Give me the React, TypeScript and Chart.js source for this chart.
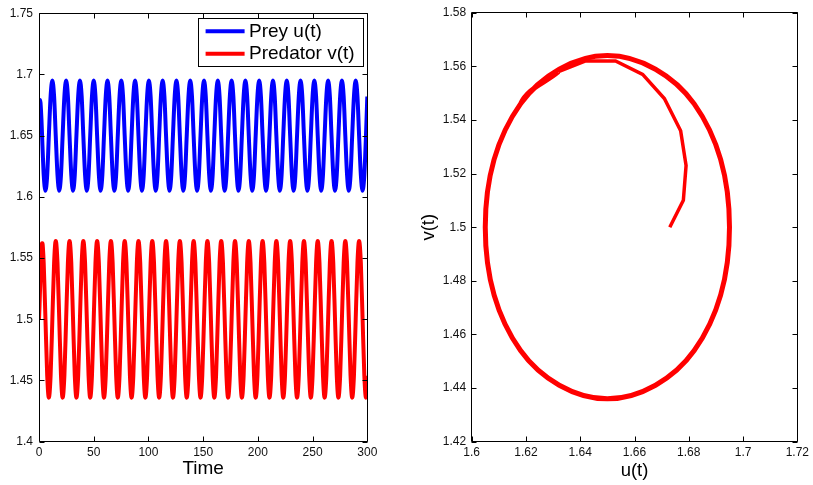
import React, { useEffect, useRef } from "react";
import { Chart, registerables } from "chart.js";

Chart.register(...registerables);

const FONT = '"Liberation Sans", Arial, Helvetica, sans-serif';

// Time samples (transient, then the periodic regime)
const time = [
  0, 0.45, 0.9, 1.35, 1.8, 2.25, 2.7, 3.15, 3.6, 4.3,
  5.9, 7.5, 9.0, 10.6, 12.2, 13.8, 15.3, 16.9,
  18.5, 20.1, 21.6, 23.2, 24.8, 26.4, 27.9, 29.5,
  31.1, 32.7, 34.2, 35.8, 37.4, 39.0, 40.5, 42.1,
  43.7, 45.3, 46.8, 48.4, 50.0, 51.6, 53.1, 54.7,
  56.3, 57.9, 59.4, 61.0, 62.6, 64.2, 65.7, 67.3,
  68.9, 70.5, 72.0, 73.6, 75.2, 76.8, 78.3, 79.9,
  81.5, 83.1, 84.6, 86.2, 87.8, 89.4, 90.9, 92.5,
  94.1, 95.7, 97.2, 98.8, 100.4, 102.0, 103.5, 105.1,
  106.7, 108.3, 109.8, 111.4, 113.0, 114.6, 116.1, 117.7,
  119.3, 120.9, 122.4, 124.0, 125.6, 127.2, 128.7, 130.3,
  131.9, 133.5, 135.0, 136.6, 138.2, 139.8, 141.3, 142.9,
  144.5, 146.1, 147.6, 149.2, 150.8, 152.4, 153.9, 155.5,
  157.1, 158.7, 160.2, 161.8, 163.4, 165.0, 166.5, 168.1,
  169.7, 171.3, 172.8, 174.4, 176.0, 177.6, 179.1, 180.7,
  182.3, 183.9, 185.4, 187.0, 188.6, 190.2, 191.7, 193.3,
  194.9, 196.5, 198.0, 199.6, 201.2, 202.8, 204.3, 205.9,
  207.5, 209.1, 210.6, 212.2, 213.8, 215.4, 216.9, 218.5,
  220.1, 221.7, 223.2, 224.8, 226.4, 228.0, 229.5, 231.1,
  232.7, 234.3, 235.8, 237.4, 239.0, 240.6, 242.1, 243.7,
  245.3, 246.9, 248.4, 250.0, 251.6, 253.2, 254.7, 256.3,
  257.9, 259.5, 261.0, 262.6, 264.2, 265.8, 267.3, 268.9,
  270.5, 272.1, 273.6, 275.2, 276.8, 278.4, 279.9, 281.5,
  283.1, 284.7, 286.2, 287.8, 289.4, 291.0, 292.5, 294.1,
  295.7, 297.3, 298.8, 300.0,
];

// Prey u(t)
const prey = [
  1.673, 1.678, 1.679, 1.677, 1.671, 1.663, 1.653, 1.642, 1.632, 1.618,
  1.605, 1.618, 1.650, 1.682, 1.695, 1.682, 1.650, 1.618,
  1.605, 1.618, 1.650, 1.682, 1.695, 1.682, 1.650, 1.618,
  1.605, 1.618, 1.650, 1.682, 1.695, 1.682, 1.650, 1.618,
  1.605, 1.618, 1.650, 1.682, 1.695, 1.682, 1.650, 1.618,
  1.605, 1.618, 1.650, 1.682, 1.695, 1.682, 1.650, 1.618,
  1.605, 1.618, 1.650, 1.682, 1.695, 1.682, 1.650, 1.618,
  1.605, 1.618, 1.650, 1.682, 1.695, 1.682, 1.650, 1.618,
  1.605, 1.618, 1.650, 1.682, 1.695, 1.682, 1.650, 1.618,
  1.605, 1.618, 1.650, 1.682, 1.695, 1.682, 1.650, 1.618,
  1.605, 1.618, 1.650, 1.682, 1.695, 1.682, 1.650, 1.618,
  1.605, 1.618, 1.650, 1.682, 1.695, 1.682, 1.650, 1.618,
  1.605, 1.618, 1.650, 1.682, 1.695, 1.682, 1.650, 1.618,
  1.605, 1.618, 1.650, 1.682, 1.695, 1.682, 1.650, 1.618,
  1.605, 1.618, 1.650, 1.682, 1.695, 1.682, 1.650, 1.618,
  1.605, 1.618, 1.650, 1.682, 1.695, 1.682, 1.650, 1.618,
  1.605, 1.618, 1.650, 1.682, 1.695, 1.682, 1.650, 1.618,
  1.605, 1.618, 1.650, 1.682, 1.695, 1.682, 1.650, 1.618,
  1.605, 1.618, 1.650, 1.682, 1.695, 1.682, 1.650, 1.618,
  1.605, 1.618, 1.650, 1.682, 1.695, 1.682, 1.650, 1.618,
  1.605, 1.618, 1.650, 1.682, 1.695, 1.682, 1.650, 1.618,
  1.605, 1.618, 1.650, 1.682, 1.695, 1.682, 1.650, 1.618,
  1.605, 1.618, 1.650, 1.682, 1.695, 1.682, 1.650, 1.618,
  1.605, 1.618, 1.650, 1.682, 1.695, 1.682, 1.650, 1.618,
  1.605, 1.618, 1.650, 1.682,
];

// Predator v(t)
const predator = [
  1.500, 1.510, 1.523, 1.536, 1.548, 1.557, 1.562, 1.562, 1.558, 1.546,
  1.500, 1.454, 1.436, 1.454, 1.500, 1.546, 1.564, 1.546,
  1.500, 1.454, 1.436, 1.454, 1.500, 1.546, 1.564, 1.546,
  1.500, 1.454, 1.436, 1.454, 1.500, 1.546, 1.564, 1.546,
  1.500, 1.454, 1.436, 1.454, 1.500, 1.546, 1.564, 1.546,
  1.500, 1.454, 1.436, 1.454, 1.500, 1.546, 1.564, 1.546,
  1.500, 1.454, 1.436, 1.454, 1.500, 1.546, 1.564, 1.546,
  1.500, 1.454, 1.436, 1.454, 1.500, 1.546, 1.564, 1.546,
  1.500, 1.454, 1.436, 1.454, 1.500, 1.546, 1.564, 1.546,
  1.500, 1.454, 1.436, 1.454, 1.500, 1.546, 1.564, 1.546,
  1.500, 1.454, 1.436, 1.454, 1.500, 1.546, 1.564, 1.546,
  1.500, 1.454, 1.436, 1.454, 1.500, 1.546, 1.564, 1.546,
  1.500, 1.454, 1.436, 1.454, 1.500, 1.546, 1.564, 1.546,
  1.500, 1.454, 1.436, 1.454, 1.500, 1.546, 1.564, 1.546,
  1.500, 1.454, 1.436, 1.454, 1.500, 1.546, 1.564, 1.546,
  1.500, 1.454, 1.436, 1.454, 1.500, 1.546, 1.564, 1.546,
  1.500, 1.454, 1.436, 1.454, 1.500, 1.546, 1.564, 1.546,
  1.500, 1.454, 1.436, 1.454, 1.500, 1.546, 1.564, 1.546,
  1.500, 1.454, 1.436, 1.454, 1.500, 1.546, 1.564, 1.546,
  1.500, 1.454, 1.436, 1.454, 1.500, 1.546, 1.564, 1.546,
  1.500, 1.454, 1.436, 1.454, 1.500, 1.546, 1.564, 1.546,
  1.500, 1.454, 1.436, 1.454, 1.500, 1.546, 1.564, 1.546,
  1.500, 1.454, 1.436, 1.454, 1.500, 1.546, 1.564, 1.546,
  1.500, 1.454, 1.436, 1.454, 1.500, 1.546, 1.564, 1.546,
  1.500, 1.454, 1.436, 1.454,
];

// Number of samples in the initial transient (straight segments in the phase plot)
const transientCount = 9;
// Samples per oscillation period in the periodic regime
const samplesPerPeriod = 8;

// Tick values and labels
const timeTicks = [0, 50, 100, 150, 200, 250, 300];
const timeTickLabels = ["0", "50", "100", "150", "200", "250", "300"];
const popTicks = [1.4, 1.45, 1.5, 1.55, 1.6, 1.65, 1.7, 1.75];
const popTickLabels = ["1.4", "1.45", "1.5", "1.55", "1.6", "1.65", "1.7", "1.75"];
const uTicks = [1.6, 1.62, 1.64, 1.66, 1.68, 1.7, 1.72];
const uTickLabels = ["1.6", "1.62", "1.64", "1.66", "1.68", "1.7", "1.72"];
const vTicks = [1.42, 1.44, 1.46, 1.48, 1.5, 1.52, 1.54, 1.56, 1.58];
const vTickLabels = ["1.42", "1.44", "1.46", "1.48", "1.5", "1.52", "1.54", "1.56", "1.58"];

const seriesLabels = ["Prey u(t)", "Predator v(t)"];
const seriesColors = ["#0000ff", "#ff0000"];

const framePlugin = {
  id: "matlabFrame",
  afterDraw(chart: any) {
    const { ctx, chartArea: a, scales } = chart;
    const L = Math.floor(a.left) + 0.5;
    const R = Math.floor(a.right) + 0.5;
    const T = Math.floor(a.top) + 0.5;
    const B = Math.floor(a.bottom) + 0.5;
    const tl = 5;
    ctx.save();
    ctx.strokeStyle = "#000";
    ctx.lineWidth = 1;
    ctx.beginPath();
    ctx.rect(L, T, R - L, B - T);
    for (const t of scales.x.ticks) {
      const px = Math.round(scales.x.getPixelForValue(t.value)) + 0.5;
      ctx.moveTo(px, B);
      ctx.lineTo(px, B - tl);
      ctx.moveTo(px, T);
      ctx.lineTo(px, T + tl);
    }
    for (const t of scales.y.ticks) {
      const py = Math.round(scales.y.getPixelForValue(t.value)) + 0.5;
      ctx.moveTo(L, py);
      ctx.lineTo(L + tl, py);
      ctx.moveTo(R, py);
      ctx.lineTo(R - tl, py);
    }
    ctx.stroke();
    ctx.restore();
  },
};

// Use the spline tangents of the same phase one period away at the open ends of the
// periodic curve, so the first and last loop segments coincide with the others.
const periodicEndsPlugin = {
  id: "periodicEnds",
  beforeDatasetDraw(chart: any, args: any) {
    const meta = args.meta;
    if (!meta || meta.index !== 1 || !meta.dataset) return;
    const line = meta.dataset;
    line.updateControlPoints(chart.chartArea, meta.iScale ? meta.iScale.axis : "x");
    const pts = meta.data;
    const n = pts.length;
    const P = samplesPerPeriod;
    if (n > P + 2) {
      const last = pts[n - 1];
      const refL = pts[n - 1 - P];
      last.cp1x = last.x + (refL.cp1x - refL.x);
      last.cp1y = last.y + (refL.cp1y - refL.y);
      const second = pts[1];
      const refF = pts[1 + P];
      second.cp2x = second.x + (refF.cp2x - refF.x);
      second.cp2y = second.y + (refF.cp2y - refF.y);
    }
  },
};

const boxLegendPlugin = {
  id: "boxLegend",
  afterDraw(chart: any) {
    const { ctx, chartArea: a } = chart;
    const ds = chart.data.datasets;
    ctx.save();
    ctx.font = `19px ${FONT}`;
    const tw = Math.max(...ds.map((d: any) => ctx.measureText(d.label).width));
    const padL = 7.6, lineLen = 39, gap = 4.4, padR = 8;
    const w = Math.round(padL + lineLen + gap + tw + padR);
    const h = 48;
    const right = Math.floor(a.right - 4.3);
    const top = Math.floor(a.top + 5.7);
    const left = right - w;
    ctx.fillStyle = "#fff";
    ctx.fillRect(left, top, w, h);
    ctx.strokeStyle = "#000";
    ctx.lineWidth = 1;
    ctx.strokeRect(left + 0.5, top + 0.5, w, h);
    ds.forEach((d: any, i: number) => {
      const yy = top + 13.3 + i * 22.4;
      ctx.strokeStyle = d.borderColor;
      ctx.lineWidth = 4;
      ctx.beginPath();
      ctx.moveTo(left + padL, yy);
      ctx.lineTo(left + padL + lineLen, yy);
      ctx.stroke();
      ctx.fillStyle = "#000";
      ctx.textBaseline = "middle";
      ctx.textAlign = "left";
      ctx.fillText(d.label, left + padL + lineLen + gap, yy + 0.5);
    });
    ctx.restore();
  },
};

function axis(
  min: number,
  max: number,
  values: number[],
  labels: string[],
  fit: (s: any) => void,
  padding: number,
  title?: { text: string; padding: any; size: number }
) {
  return {
    type: "linear" as const,
    min,
    max,
    afterBuildTicks: (s: any) => {
      s.ticks = values.map((v) => ({ value: v }));
    },
    afterFit: fit,
    grid: { display: false, drawTicks: false },
    border: { display: false },
    ticks: {
      autoSkip: false,
      maxRotation: 0,
      padding,
      color: "#111",
      font: { family: FONT, size: 12 },
      callback: (_v: any, i: number) => labels[i],
    },
    title: title
      ? {
          display: true,
          text: title.text,
          color: "#000",
          font: { family: FONT, size: title.size },
          padding: title.padding,
        }
      : { display: false },
  };
}

export default function App() {
  const leftRef = useRef<HTMLCanvasElement>(null);
  const rightRef = useRef<HTMLCanvasElement>(null);

  useEffect(() => {
    const preyPts = time.map((t, i) => ({ x: t, y: prey[i] }));
    const predPts = time.map((t, i) => ({ x: t, y: predator[i] }));
    const phasePts = prey.map((u, i) => ({ x: u, y: predator[i] }));
    const transientPts = phasePts.slice(0, transientCount);
    const cyclePts = phasePts.slice(transientCount - 1);

    const left = new Chart(leftRef.current as HTMLCanvasElement, {
      type: "line",
      data: {
        datasets: [
          {
            label: seriesLabels[0],
            data: preyPts,
            borderColor: seriesColors[0],
            backgroundColor: seriesColors[0],
            borderWidth: 4,
            pointRadius: 0,
            cubicInterpolationMode: "monotone",
            fill: false,
          },
          {
            label: seriesLabels[1],
            data: predPts,
            borderColor: seriesColors[1],
            backgroundColor: seriesColors[1],
            borderWidth: 4,
            pointRadius: 0,
            cubicInterpolationMode: "monotone",
            fill: false,
          },
        ],
      },
      options: {
        animation: false,
        responsive: false,
        devicePixelRatio: 1,
        layout: { padding: { left: 0, right: 32.7, top: 11, bottom: 0 } },
        plugins: { legend: { display: false }, tooltip: { enabled: false } },
        events: [],
        scales: {
          x: axis(0, 300, timeTicks, timeTickLabels, (s: any) => { s.height = 43.3; }, 4, {
            text: "Time",
            padding: { top: 0, bottom: 5 },
            size: 19,
          }),
          y: axis(1.4, 1.75, popTicks, popTickLabels, (s: any) => { s.width = 39; }, 6),
        },
      } as any,
      plugins: [framePlugin, boxLegendPlugin],
    });

    const right = new Chart(rightRef.current as HTMLCanvasElement, {
      type: "line",
      data: {
        datasets: [
          {
            label: "transient",
            data: transientPts,
            borderColor: seriesColors[1],
            backgroundColor: seriesColors[1],
            borderWidth: 3.5,
            pointRadius: 0,
            tension: 0,
            fill: false,
          },
          {
            label: "limit cycle",
            data: cyclePts,
            borderColor: seriesColors[1],
            backgroundColor: seriesColors[1],
            borderWidth: 5,
            pointRadius: 0,
            tension: 0.375,
            fill: false,
          },
        ],
      },
      options: {
        animation: false,
        responsive: false,
        devicePixelRatio: 1,
        layout: { padding: { left: 0, right: 12, top: 11, bottom: 0 } },
        plugins: { legend: { display: false }, tooltip: { enabled: false } },
        events: [],
        scales: {
          x: axis(1.6, 1.72, uTicks, uTickLabels, (s: any) => { s.height = 43.3; }, 4, {
            text: "u(t)",
            padding: { top: 0, bottom: 3 },
            size: 18.5,
          }),
          y: axis(1.42, 1.58, vTicks, vTickLabels, (s: any) => { s.width = 58.7; }, 5.5, {
            text: "v(t)",
            padding: { top: 4.5, bottom: 0 },
            size: 18.5,
          }),
        },
      } as any,
      plugins: [periodicEndsPlugin, framePlugin],
    });

    return () => {
      left.destroy();
      right.destroy();
    };
  }, []);

  return (
    <div
      style={{
        position: "absolute",
        left: 0,
        top: 0,
        width: 813,
        height: 485,
        background: "#fff",
        overflow: "hidden",
      }}
    >
      <canvas
        ref={leftRef}
        width={400}
        height={485}
        style={{ position: "absolute", left: 0, top: 0 }}
      />
      <canvas
        ref={rightRef}
        width={400}
        height={485}
        style={{ position: "absolute", left: 413, top: 0 }}
      />
    </div>
  );
}
